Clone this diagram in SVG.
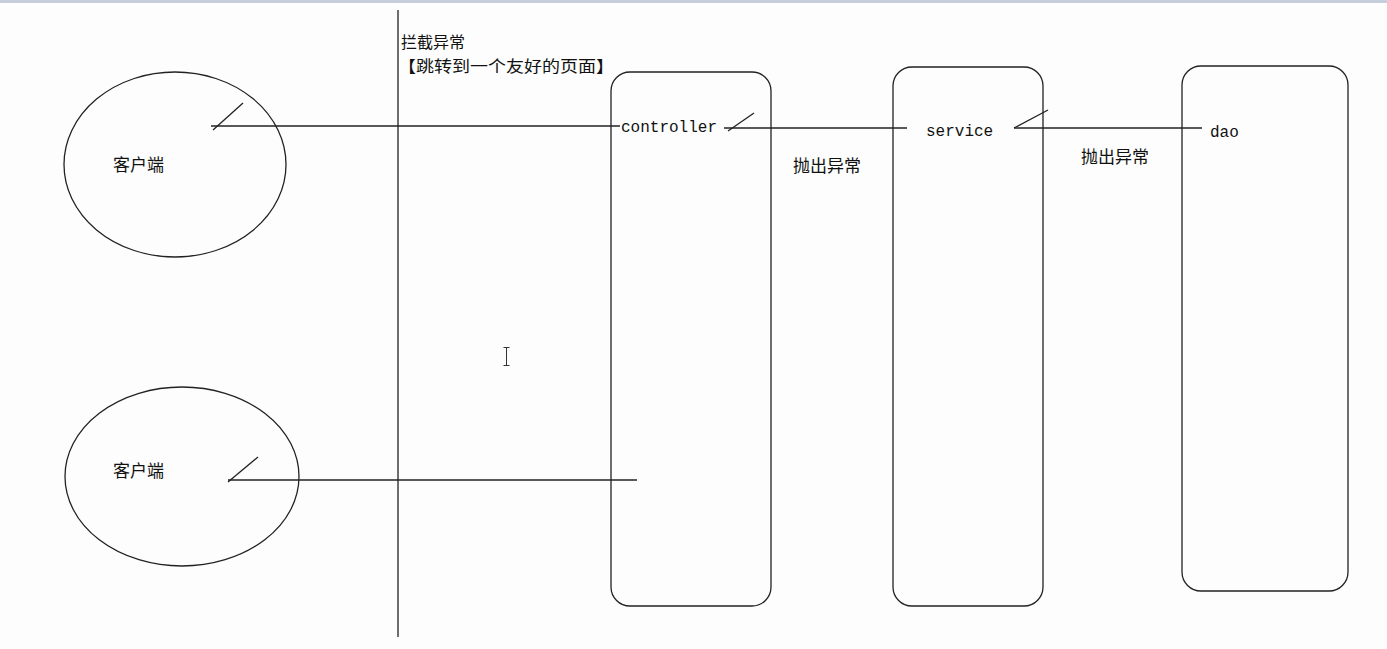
<svg xmlns="http://www.w3.org/2000/svg" width="1387" height="649" viewBox="0 0 1387 649">
<style>
.bg{fill:#fcfdfc}
.bar{fill:#c6cedb}
.shape{fill:none;stroke:#222;stroke-width:1.3}
.line{fill:none;stroke:#222;stroke-width:1.5}
.cjk{font-family:"Noto Sans CJK SC","Noto Sans",sans-serif;font-size:17px;fill:#111}
.note{font-family:"Noto Sans CJK SC","Noto Sans",sans-serif;font-size:16px;fill:#111}
.mono{font-family:"Liberation Mono","DejaVu Sans Mono",monospace;font-size:16px;fill:#111}
</style>
<rect class="bg" x="0" y="0" width="1387" height="649"/>
<rect class="bar" x="0" y="0" width="1387" height="3"/>
<g id="divider">
<line class="shape" x1="398" y1="10" x2="398" y2="637"/>
<text class="note" x="401" y="48">拦截异常</text>
<text class="note" x="398" y="72" textLength="216" lengthAdjust="spacingAndGlyphs">【跳转到一个友好的页面】</text>
</g>
<g id="client1">
<ellipse class="shape" cx="175" cy="164.5" rx="111" ry="92.5"/>
<text class="cjk" x="113" y="171">客户端</text>
</g>
<g id="client2">
<ellipse class="shape" cx="182" cy="476.5" rx="117" ry="89.5"/>
<text class="cjk" x="113" y="477">客户端</text>
</g>
<g id="controller">
<rect class="shape" x="611" y="72" width="160" height="534" rx="19" ry="19"/>
<text class="mono" x="621" y="132">controller</text>
</g>
<g id="service">
<rect class="shape" x="893" y="67" width="150" height="539" rx="19" ry="19"/>
<text class="mono" x="926" y="136">service</text>
</g>
<g id="dao">
<rect class="shape" x="1182" y="66" width="166" height="525" rx="19" ry="19"/>
<text class="mono" x="1210" y="137">dao</text>
</g>
<g id="connectors">
<line class="line" x1="211" y1="126" x2="620" y2="126"/>
<line class="shape" x1="213" y1="130" x2="243" y2="103"/>
<line class="line" x1="724" y1="128" x2="907" y2="128"/>
<line class="shape" x1="728" y1="131" x2="754" y2="113"/>
<line class="line" x1="1014" y1="128" x2="1202" y2="128"/>
<line class="shape" x1="1014" y1="128" x2="1048" y2="110"/>
<line class="line" x1="228" y1="480" x2="637" y2="480"/>
<line class="shape" x1="228" y1="482" x2="258" y2="457"/>
<text class="cjk" x="793" y="172">抛出异常</text>
<text class="cjk" x="1081" y="163">抛出异常</text>
</g>
<g id="cursor" fill="none" stroke="#333" stroke-width="1">
<line x1="506.5" y1="348" x2="506.5" y2="365"/>
<line x1="503.5" y1="347.5" x2="509.5" y2="347.5"/>
<line x1="503.5" y1="365.5" x2="509.5" y2="365.5"/>
</g>
</svg>
